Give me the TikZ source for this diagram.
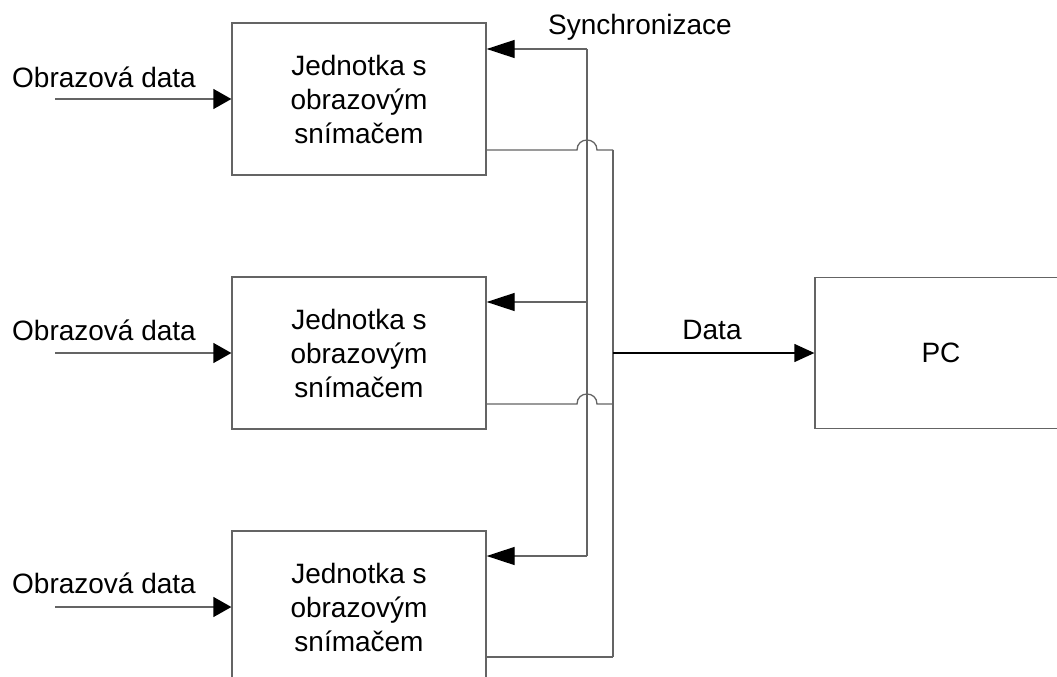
\documentclass[tikz,border=0pt]{standalone}
\usepackage{fontspec}
\setmainfont{Liberation Sans}
\usetikzlibrary{arrows.meta}
\definecolor{linegray}{RGB}{100,100,100}
\begin{document}
\begin{tikzpicture}[x=1pt,y=-1pt,
  wire/.style={draw=linegray,line width=1.3pt},
  unitbox/.style={draw=linegray,line width=1.3pt,minimum width=254pt,minimum height=152pt,
    inner sep=0pt,align=center,font=\fontsize{28}{34}\selectfont},
  lbl/.style={font=\fontsize{28}{34}\selectfont,inner sep=0pt},
  intip/.style={-{Triangle[length=18pt,width=20pt,color=black]}},
  synctip/.style={-{Triangle[length=28pt,width=18pt,color=black]}},
  pctip/.style={-{Triangle[length=20pt,width=18pt,color=black]}}]
\useasboundingbox (0,0) rectangle (1057,677);
\clip (0,0) rectangle (1057,677);

% camera units
\node[unitbox] (u1) at (359,99)  {Jednotka s\\obrazovým\\snímačem};
\node[unitbox] (u2) at (359,353) {Jednotka s\\obrazovým\\snímačem};
\node[unitbox] (u3) at (359,607) {Jednotka s\\obrazovým\\snímačem};
\node[unitbox,minimum width=252pt,minimum height=151pt] (pc) at (941,353) {PC};

% image data inputs
\node[lbl] (l1) at (104,77)  {Obrazová data};
\node[lbl] (l2) at (104,330) {Obrazová data};
\node[lbl] (l3) at (104,583) {Obrazová data};
\coordinate (i1) at (55,99);
\coordinate (i2) at (55,353);
\coordinate (i3) at (55,607);
\draw[wire,intip] (i1) -- (u1.west);
\draw[wire,intip] (i2) -- (u2.west);
\draw[wire,intip] (i3) -- (u3.west);

% synchronisation bus
\coordinate (s1) at (587,49);
\coordinate (s2) at (587,302);
\coordinate (s3) at (587,556);
\node[lbl] (sync) at (640,27) {Synchronizace};
\draw[wire] (s1) -- (s3);
\draw[wire,synctip] (s1) -- (s1 -| u1.east);
\draw[wire,synctip] (s2) -- (s2 -| u2.east);
\draw[wire,synctip] (s3) -- (s3 -| u3.east);

% data bus with jumps over the sync line
\coordinate (d1) at (613,150);
\coordinate (d2) at (613,404);
\coordinate (d3) at (613,657);
\coordinate (dp) at (613,353);
\draw[wire] (d1 -| u1.east) -- (577,150) .. controls (577,136.7) and (597,136.7) .. (597,150) -- (d1);
\draw[wire] (d2 -| u2.east) -- (577,404) .. controls (577,390.7) and (597,390.7) .. (597,404) -- (d2);
\draw[wire] (d3 -| u3.east) -- (d3);
\draw[wire] (d1) -- (d3);
\draw[line width=1.3pt,pctip] (dp) -- (pc.west);
\node[lbl] (datalbl) at (712,330) {Data};
\end{tikzpicture}
\end{document}
